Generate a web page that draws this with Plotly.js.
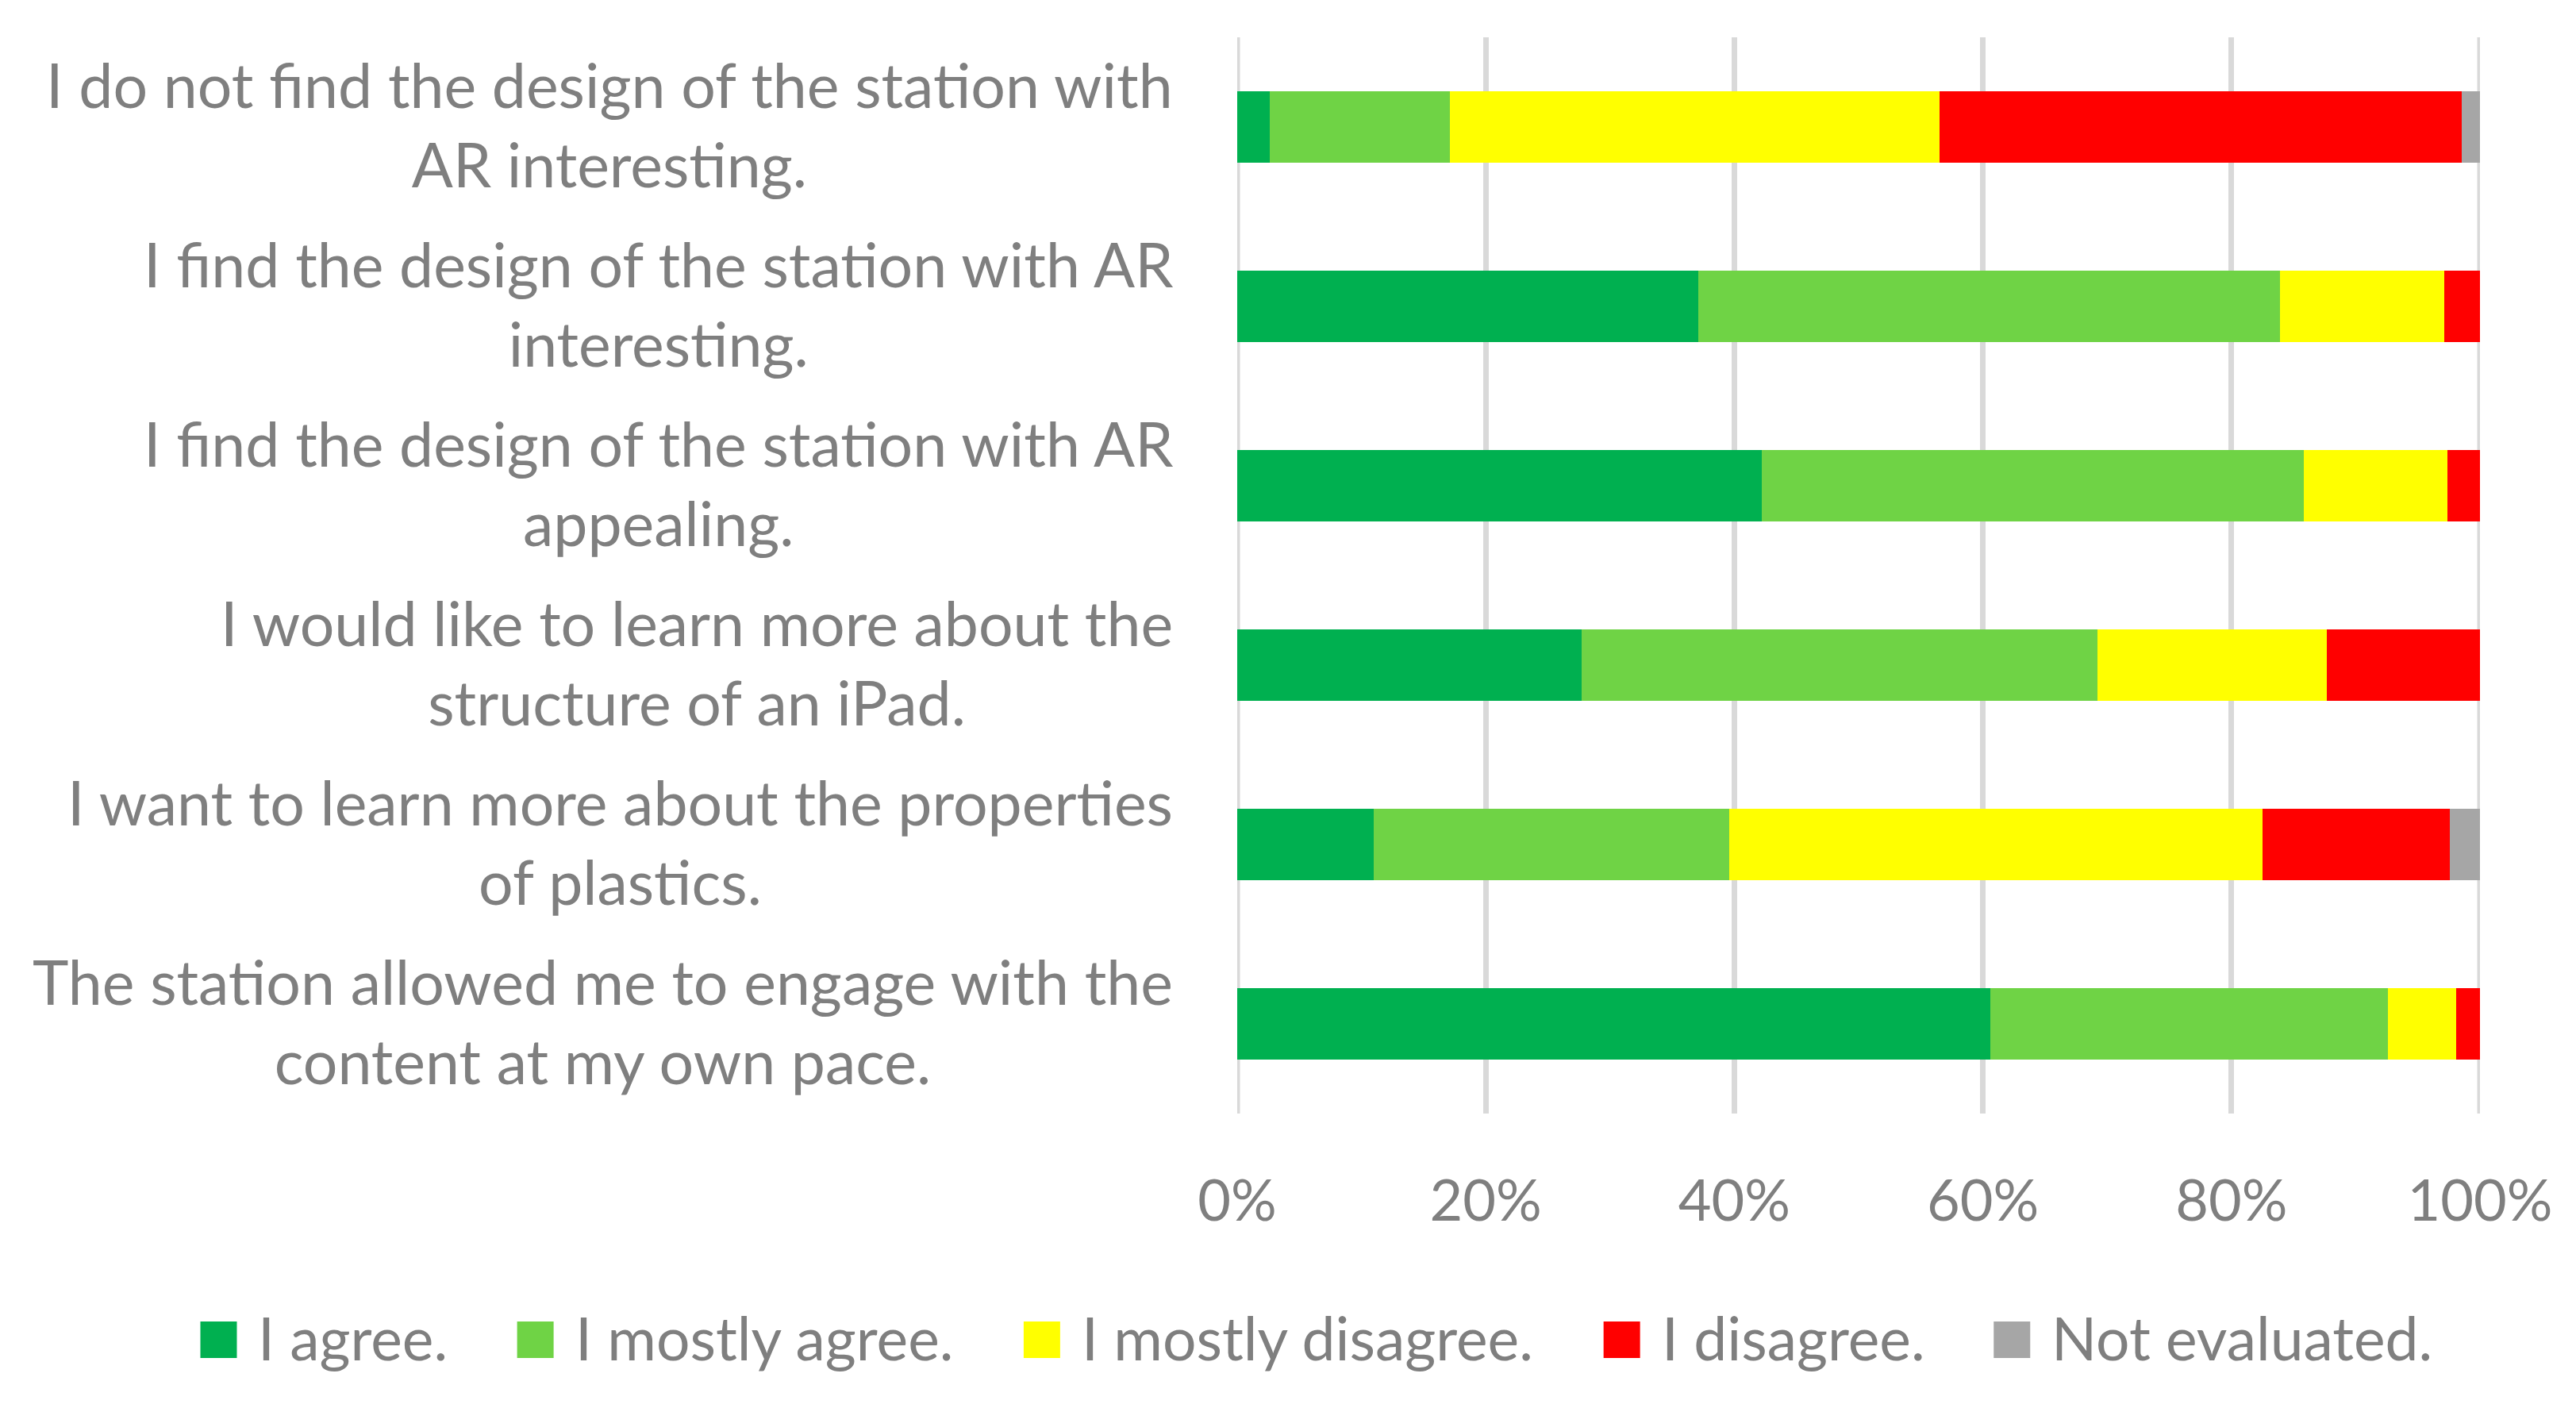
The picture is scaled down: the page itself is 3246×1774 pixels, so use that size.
<!DOCTYPE html>
<html>
<head>
<meta charset="utf-8">
<script src="https://cdn.plot.ly/plotly-3.0.1.min.js"></script>
<style>
  html, body { margin: 0; padding: 0; background: #fff; }
  #plot { width: 3246px; height: 1774px; }
</style>
</head>
<body>
<div id="plot"></div>
<script>
// Statements, top to bottom as they appear in the chart
const statements = [
  "I do not find the design of the station with<br>AR interesting.",
  "I find the design of the station with AR<br>interesting.",
  "I find the design of the station with AR<br>appealing.",
  "I would like to learn more about the<br>structure of an iPad.",
  "I want to learn more about the properties<br>of plastics.",
  "The station allowed me to engage with the<br>content at my own pace."
];

// Answer shares in percent, one value per statement
const agree          = [2.6, 37.1, 42.2, 27.7, 11.0, 60.6];
const mostlyAgree    = [14.5, 46.8, 43.6, 41.5, 28.6, 32.0];
const mostlyDisagree = [39.4, 13.2, 11.6, 18.5, 42.9, 5.5];
const disagree       = [42.0, 2.9, 2.6, 12.3, 15.1, 1.9];
const notEvaluated   = [1.5, 0, 0, 0, 2.4, 0];

const seriesNames  = ["I agree.", "I mostly agree.", "I mostly disagree.", "I disagree.", "Not evaluated."];
const seriesValues = [agree, mostlyAgree, mostlyDisagree, disagree, notEvaluated];
const seriesColors = ["#00b050", "#6fd345", "#ffff00", "#ff0000", "#a6a6a6"];

const xTicks = [0, 20, 40, 60, 80, 100];

const textColor = "#7f7f7f";
const fontFamily = "Lato, 'Open Sans', sans-serif";
const labelSize = 77;
const tickSize = 72;
const legendSize = 75;
const gridColor = '#d9d9d9';

const W = 3246, H = 1774;
const margin = { l: 1559, r: 121, t: 47, b: 371 };
const plotW = W - margin.l - margin.r;
const plotH = H - margin.t - margin.b;

// Build the stacked bar traces
const data = seriesNames.map((name, i) => ({
  type: 'bar',
  orientation: 'h',
  name: name,
  x: seriesValues[i],
  y: statements,
  marker: { color: seriesColors[i], line: { width: 0 } },
  hoverinfo: 'skip',
  showlegend: false
}));

// Category labels: centred lines, right-aligned block left of the plot
const annotations = statements.map(s => ({
  text: s,
  xref: 'paper', yref: 'y',
  x: 0, y: s,
  xanchor: 'right', yanchor: 'middle',
  xshift: -79,
  yshift: 4,
  align: 'center',
  showarrow: false,
  font: { family: fontFamily, size: labelSize, color: textColor }
}));

// Plotly skips gridlines sitting on the plot edges, so draw those two here
const shapes = [0, 100].map(v => ({
  type: 'line', xref: 'x', yref: 'paper',
  x0: v, x1: v, y0: 0, y1: 1,
  layer: 'below',
  line: { color: gridColor, width: 7 }
}));

// Custom legend with large square swatches
const ctx = document.createElement('canvas').getContext('2d');
ctx.font = legendSize + "px Lato";
const swatch = 46, swatchGap = 25, itemGap = 89;
const widths = seriesNames.map(n => ctx.measureText(n).width);
const total = widths.reduce((a, w) => a + swatch + swatchGap + w, 0) + itemGap * (seriesNames.length - 1);
const legendCenter = 1658;
const legendBottom = 1711;
let cursor = legendCenter - total / 2;

const toPx = px => (px - margin.l) / plotW;
const toPy = py => 1 - (py - margin.t) / plotH;

seriesNames.forEach((name, i) => {
  shapes.push({
    type: 'rect', xref: 'paper', yref: 'paper',
    x0: toPx(cursor), x1: toPx(cursor + swatch),
    y0: toPy(legendBottom), y1: toPy(legendBottom - swatch),
    fillcolor: seriesColors[i], line: { width: 0 }
  });
  annotations.push({
    text: name,
    xref: 'paper', yref: 'paper',
    x: toPx(cursor + swatch + swatchGap), y: toPy(legendBottom - swatch / 2 - 3),
    xanchor: 'left', yanchor: 'middle',
    showarrow: false,
    font: { family: fontFamily, size: legendSize, color: textColor }
  });
  cursor += swatch + swatchGap + widths[i] + itemGap;
});

const layout = {
  width: W,
  height: H,
  margin: margin,
  paper_bgcolor: '#ffffff',
  plot_bgcolor: '#ffffff',
  barmode: 'stack',
  bargap: 0.6,
  showlegend: false,
  font: { family: fontFamily, size: tickSize, color: textColor },
  xaxis: {
    range: [0, 100],
    tickvals: xTicks,
    ticktext: xTicks.map(v => v + '%'),
    showgrid: true,
    gridcolor: gridColor,
    gridwidth: 7,
    zeroline: false,
    showline: false,
    ticks: '',
    ticklabelstandoff: 62,
    tickfont: { family: fontFamily, size: tickSize, color: textColor },
    fixedrange: true
  },
  yaxis: {
    type: 'category',
    autorange: 'reversed',
    showticklabels: false,
    showgrid: false,
    zeroline: false,
    showline: false,
    ticks: '',
    fixedrange: true
  },
  shapes: shapes,
  annotations: annotations
};

Plotly.newPlot('plot', data, layout, { staticPlot: true, displayModeBar: false });
</script>
</body>
</html>
